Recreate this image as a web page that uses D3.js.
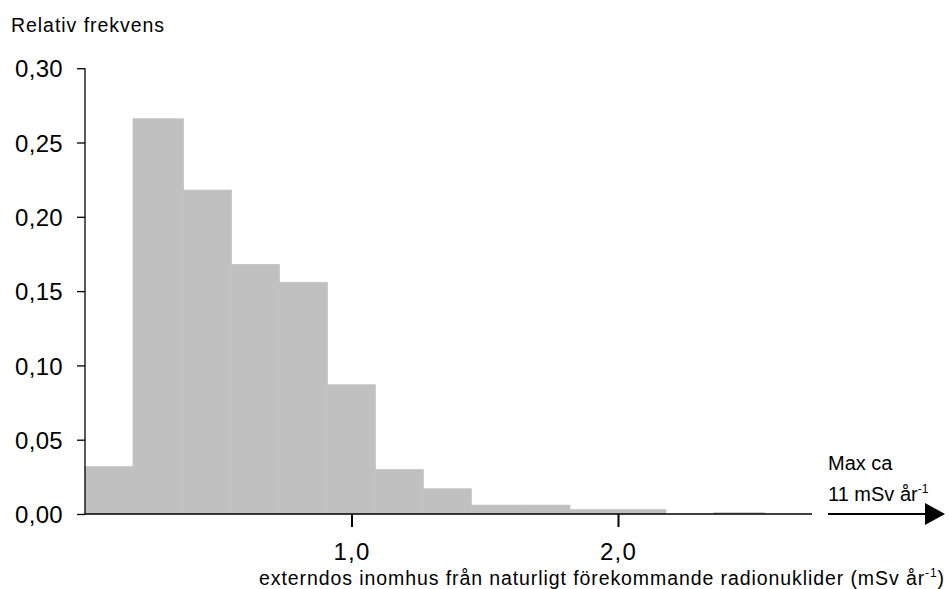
<!DOCTYPE html>
<html>
<head>
<meta charset="utf-8">
<script src="https://cdn.jsdelivr.net/npm/d3@7"></script>
<style>
  html, body { margin: 0; padding: 0; background: #fff; }
  svg { display: block; font-family: "Liberation Sans", Arial, sans-serif; }
</style>
</head>
<body>
<svg id="chart" width="949" height="589"></svg>
<script>
// Histogram: relative frequency of indoor external dose (mSv per year)
const binStarts = [0.00, 0.18, 0.37, 0.55, 0.73, 0.91, 1.09, 1.27, 1.45, 1.64, 1.82, 2.00, 2.18, 2.36];
const binEnds   = [0.18, 0.37, 0.55, 0.73, 0.91, 1.09, 1.27, 1.45, 1.64, 1.82, 2.00, 2.18, 2.36, 2.55];
const frequency = [0.032, 0.266, 0.218, 0.168, 0.156, 0.087, 0.030, 0.017, 0.006, 0.006, 0.003, 0.003, 0.000, 0.001];
const yTicks = [0.00, 0.05, 0.10, 0.15, 0.20, 0.25, 0.30];
const xTicks = [1.0, 2.0];
const yTitle = "Relativ frekvens";
const xTitle = "externdos inomhus från naturligt förekommande radionuklider (mSv år";
const maxNote = ["Max ca", "11 mSv år"];

const svg = d3.select("#chart");

const x = d3.scaleLinear().domain([0, 1]).range([85, 351.5]);
const y = d3.scaleLinear().domain([0, 0.30]).range([514, 68.2]);

// bars
svg.append("g").selectAll("rect")
  .data(frequency)
  .join("rect")
  .attr("x", (d, i) => x(binStarts[i]))
  .attr("width", (d, i) => x(binEnds[i]) - x(binStarts[i]))
  .attr("y", d => y(d))
  .attr("height", d => y(0) - y(d))
  .attr("fill", "#c0c0c0")
  .attr("stroke", "#c0c0c0")
  .attr("stroke-width", 0.6);

// y axis
const yAxis = svg.append("g")
  .attr("transform", `translate(${x(0)},0)`)
  .call(d3.axisLeft(y).tickValues(yTicks).tickSize(8).tickPadding(14)
        .tickFormat(d => d.toFixed(2).replace(".", ",")));
yAxis.select(".domain").attr("stroke", "#000").attr("stroke-width", 1.3)
  .attr("d", `M0,${y(0.30)}V${y(0)}`);
yAxis.selectAll(".tick line").attr("stroke", "#000").attr("stroke-width", 1.3);
yAxis.selectAll(".tick text")
  .attr("fill", "#000")
  .style("font-size", "24px")
  .style("letter-spacing", "0.3px")
  .attr("dy", "0.36em");

// x axis
const xAxis = svg.append("g")
  .attr("transform", `translate(0,${y(0)})`)
  .call(d3.axisBottom(x).tickValues(xTicks).tickSize(13).tickPadding(16)
        .tickFormat(d => d.toFixed(1).replace(".", ",")));
xAxis.select(".domain").attr("stroke", "#000").attr("stroke-width", 1.6)
  .attr("d", `M${x(0)},0H812`);
xAxis.selectAll(".tick line").attr("stroke", "#000").attr("stroke-width", 2);
xAxis.selectAll(".tick text")
  .attr("fill", "#000")
  .style("font-size", "24px")
  .style("letter-spacing", "1.2px");

// arrow indicating the maximum beyond the axis
svg.append("line")
  .attr("x1", 828).attr("x2", 926)
  .attr("y1", y(0)).attr("y2", y(0))
  .attr("stroke", "#000").attr("stroke-width", 2);
svg.append("path")
  .attr("d", `M925,${y(0) - 11}L945,${y(0)}L925,${y(0) + 11}Z`)
  .attr("fill", "#000");

// stretch text to a given width with letter spacing
function fitWidth(textSel, target) {
  const node = textSel.node();
  const n = node.getNumberOfChars();
  const w = node.getComputedTextLength();
  textSel.style("letter-spacing", ((target - w) / n) + "px");
}

const yt = svg.append("text")
  .attr("x", 11).attr("y", 32)
  .style("font-size", "19.5px")
  .text(yTitle);
fitWidth(yt, 154);

svg.append("text").attr("x", 828).attr("y", 470).style("font-size", "20px").text(maxNote[0]);
const m2 = svg.append("text").attr("x", 828).attr("y", 501).style("font-size", "20px");
m2.append("tspan").text(maxNote[1]);
m2.append("tspan").attr("dy", -8).style("font-size", "12px").text("-1");

const xt = svg.append("text").attr("x", 259).attr("y", 585).style("font-size", "19.5px");
xt.append("tspan").text(xTitle);
xt.append("tspan").attr("dy", -8).style("font-size", "12px").text("-1");
xt.append("tspan").attr("dy", 8).text(")");
fitWidth(xt, 686);
</script>
</body>
</html>
